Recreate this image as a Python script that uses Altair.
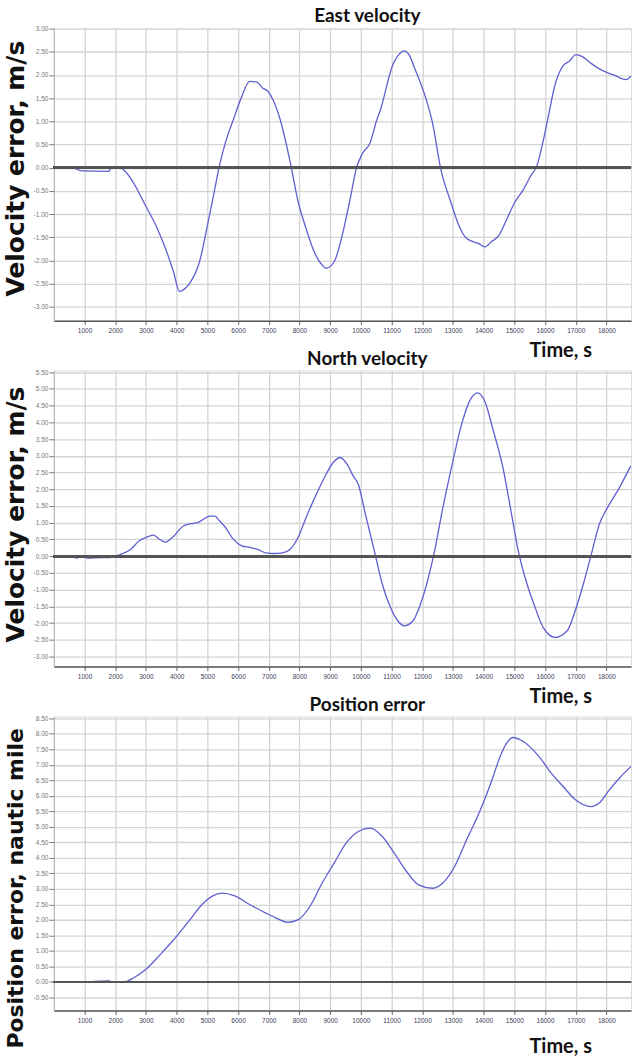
import altair as alt
import pandas as pd

# ---------------- data ----------------
east_t = [400, 700, 900, 1800, 1850, 2150, 2350, 2580, 2980, 3370, 3633, 3896, 4090, 4250,
          4420, 4745, 5005, 5201, 5397, 5593, 5855, 6100, 6380, 6600, 6800, 6970, 7150, 7367,
          7700, 7960, 8214, 8476, 8738, 8869, 9131, 9393, 9654, 9851, 10047, 10310, 10506,
          10640, 11030, 11250, 11420, 11600, 11750, 12140, 12340, 12600, 12930, 13190, 13450,
          13843, 14040, 14250, 14500, 14760, 15020, 15280, 15540, 15740, 15930, 16090, 16330,
          16590, 16800, 17000, 17200, 17500, 17800, 18020, 18300, 18540, 18650, 18800]
east_v = [0.0, -0.02, -0.07, -0.08, 0.0, 0.0, -0.1, -0.31, -0.81, -1.31, -1.74, -2.24, -2.67, -2.62,
          -2.5, -2.03, -1.24, -0.6, 0.05, 0.55, 1.05, 1.5, 1.86, 1.85, 1.72, 1.65, 1.45, 1.05,
          0.12, -0.74, -1.31, -1.81, -2.1, -2.17, -2.03, -1.46, -0.67, -0.02, 0.3, 0.55, 1.0,
          1.25, 2.2, 2.45, 2.52, 2.4, 2.15, 1.45, 0.95, -0.02, -0.74, -1.24, -1.53,
          -1.64, -1.71, -1.6, -1.46, -1.1, -0.74, -0.49, -0.17, 0.05, 0.55, 1.05, 1.8,
          2.2, 2.3, 2.44, 2.4, 2.25, 2.12, 2.05, 1.98, 1.91, 1.9, 1.98]

north_t = [400, 600, 750, 900, 1100, 1300, 1800, 2193, 2500, 2781, 3000, 3240, 3450, 3633, 3850,
           4222, 4450, 4680, 4900, 5072, 5250, 5400, 5597, 5850, 6119, 6400, 6643, 6900, 7167,
           7450, 7691, 7950, 8214, 8500, 8869, 9100, 9327, 9550, 9750, 9916, 10150, 10440, 10700,
           10963, 11200, 11421, 11700, 11945, 12200, 12403, 12650, 12928, 13300, 13550, 13800,
           14050, 14300, 14628, 14890, 15152, 15415, 15676, 15937, 16329, 16722, 16984, 17246,
           17509, 17770, 18033, 18424, 18790]
north_v = [0.0, -0.02, -0.05, -0.02, -0.06, -0.05, -0.04, 0.06, 0.2, 0.46, 0.56, 0.63, 0.5, 0.42, 0.55,
           0.9, 0.97, 1.0, 1.12, 1.2, 1.2, 1.05, 0.85, 0.5, 0.31, 0.26, 0.2, 0.1, 0.08,
           0.1, 0.2, 0.55, 1.15, 1.75, 2.45, 2.8, 2.95, 2.75, 2.4, 2.15, 1.25, 0.16, -0.84,
           -1.53, -1.93, -2.08, -1.93, -1.43, -0.64, 0.16, 1.35, 2.55, 4.0, 4.65, 4.88,
           4.6, 3.8, 2.65, 1.35, 0.06, -0.84, -1.53, -2.13, -2.43, -2.23, -1.63, -0.84,
           0.06, 0.96, 1.45, 2.05, 2.7]

pos_t = [400, 1200, 1300, 1800, 1900, 2190, 2400, 2580, 2980, 3510, 3905, 4430, 4820, 5150, 5480,
         5870, 6390, 6905, 7300, 7600, 7950, 8345, 8740, 9130, 9525, 9916, 10310, 10700, 11090,
         11490, 11880, 12338, 12670, 13060, 13450, 13850, 14050, 14300, 14550, 14750, 14950,
         15280, 15800, 16195, 16590, 16980, 17500, 17800, 18100, 18450, 18800]
pos_v = [0.0, 0.0, 0.02, 0.03, 0.0, 0.0, 0.03, 0.12, 0.39, 0.93, 1.36, 2.0, 2.49, 2.76, 2.86,
         2.78, 2.49, 2.22, 2.03, 1.92, 2.0, 2.44, 3.19, 3.83, 4.48, 4.85, 4.96, 4.69, 4.15,
         3.56, 3.13, 3.02, 3.19, 3.73, 4.59, 5.45, 5.93, 6.6, 7.3, 7.7, 7.88,
         7.76, 7.27, 6.74, 6.3, 5.88, 5.65, 5.8, 6.2, 6.6, 6.95]

x_ticks = [1000, 2000, 3000, 4000, 5000, 6000, 7000, 8000, 9000, 10000, 11000, 12000,
           13000, 14000, 15000, 16000, 17000, 18000]
east_yticks = [-3.0, -2.5, -2.0, -1.5, -1.0, -0.5, 0.0, 0.5, 1.0, 1.5, 2.0, 2.5, 3.0]
north_yticks = [-3.0, -2.5, -2.0, -1.5, -1.0, -0.5, 0.0, 0.5, 1.0, 1.5, 2.0, 2.5, 3.0,
                3.5, 4.0, 4.5, 5.0, 5.5]
pos_yticks = [-0.5, 0.0, 0.5, 1.0, 1.5, 2.0, 2.5, 3.0, 3.5, 4.0, 4.5, 5.0, 5.5, 6.0,
              6.5, 7.0, 7.5, 8.0, 8.5]

titles = ["East velocity", "North velocity", "Position error"]
y_titles = ["Velocity error, m/s", "Velocity error, m/s", "Position error, nautic mile"]
x_title = "Time, s"

LINE = "#5f5fd0"
W = 579


def panel(t, v, title, ytitle, ydom, yticks, height, ytitle_y, ytitle_size, xtitle_y):
    df = pd.DataFrame({"t": t, "v": v})
    xscale = alt.Scale(domain=[0, 18800], nice=False, zero=False)
    yscale = alt.Scale(domain=ydom, nice=False, zero=False)
    xaxis = alt.Axis(values=x_ticks, format="d", title=x_title, labelOverlap=False,
                     titleFont="Lato", titleFontSize=20, titleFontWeight="bold",
                     titleColor="#111", titleX=508, titleY=xtitle_y,
                     titleAlign="center", titleBaseline="middle",
                     labelFont="Liberation Sans", labelFontSize=6.5,
                     labelColor="#3c3c5a", labelPadding=3,
                     domainColor="#555", domainWidth=1.5,
                     tickColor="#666", tickSize=4,
                     grid=True, gridColor="#d4d4d4", gridWidth=1.3)
    yaxis = alt.Axis(values=yticks, title=ytitle, labelOverlap=False,
                     labelExpr="replace(format(datum.value, '.2f'), '\u2212', '-')",
                     titleFont="DejaVu Sans", titleFontSize=ytitle_size,
                     titleFontWeight="bold",
                     titleColor="#111", titleAngle=270, titleX=-38, titleY=ytitle_y,
                     titleAlign="center", titleBaseline="middle",
                     labelFont="Liberation Sans", labelFontSize=6.5,
                     labelColor="#777", labelPadding=1,
                     domainColor="#b0b0b0", domainWidth=1,
                     tickColor="#777", tickSize=5,
                     grid=True, gridColor="#d4d4d4", gridWidth=1.3)
    line = alt.Chart(df).mark_line(color=LINE, strokeWidth=1.3, clip=True,
                                   interpolate="monotone").encode(
        x=alt.X("t:Q", scale=xscale, axis=xaxis),
        y=alt.Y("v:Q", scale=yscale, axis=yaxis))
    zero = alt.Chart(df).mark_rule(color="#555", strokeWidth=2).encode(
        y=alt.YDatum(0, scale=yscale, axis=yaxis))
    return alt.layer(line, zero).properties(
        width=W, height=height,
        title=alt.TitleParams(title, font="Lato", fontSize=19, fontWeight="bold",
                              color="#111", anchor="middle", dx=25, offset=0))


p1 = panel(east_t, east_v, titles[0], y_titles[0], [-3.3, 3.0], east_yticks, 293, 140, 25, 30)
p2 = panel(north_t, north_v, titles[1], y_titles[1], [-3.3, 5.55], north_yticks, 297, 144, 25, 30)
p3 = panel(pos_t, pos_v, titles[2], y_titles[2], [-0.92, 8.56], pos_yticks, 295, 172, 22, 36)

chart = alt.vconcat(p1, p2, p3, spacing=50, bounds="flush").properties(
    padding={"left": 3, "top": 4, "right": 0, "bottom": 0}
).configure_view(stroke=None).configure(background="white")

chart.save("out.html", embed_options={"renderer": "svg", "actions": False})
